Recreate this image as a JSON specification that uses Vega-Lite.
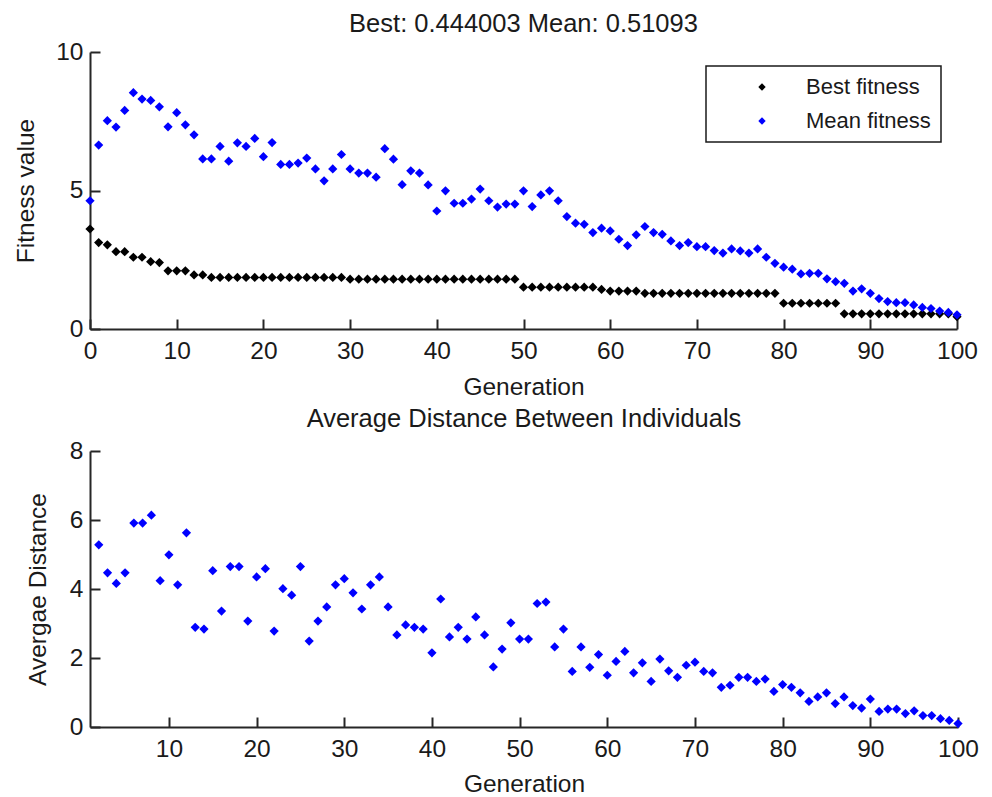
{
  "$schema": "https://vega.github.io/schema/vega-lite/v6.json",
  "background": "white",
  "padding": {"left": 13, "top": 11, "right": 10, "bottom": 2},
  "bounds": "flush",
  "spacing": 122,
  "config": {
    "font": "Liberation Sans",
    "view": {"stroke": null},
    "axis": {
      "domainColor": "#262626", "domainWidth": 2,
      "tickColor": "#262626", "tickWidth": 2, "tickSize": -10,
      "labelPadding": 20, "labelFontSize": 24.5, "labelColor": "#1a1a1a",
      "titleFontSize": 24.5, "titleFontWeight": "normal", "titleColor": "#1a1a1a",
      "grid": false, "labelFlush": false, "labelOverlap": false, "labelBound": false
    },
    "axisY": {"labelPadding": 17},
    "title": {"fontSize": 25.5, "fontWeight": "normal", "color": "#1a1a1a", "anchor": "middle", "baseline": "alphabetic", "frame": "group"},
    "legend": {"strokeWidth": 1.5}
  },
  "datasets": {
    "fitness": [
      {"g":0,"best":3.61,"mean":4.63},{"g":1,"best":3.12,"mean":6.64},{"g":2,"best":3.04,"mean":7.52},{"g":3,"best":2.79,"mean":7.29},{"g":4,"best":2.79,"mean":7.89},
      {"g":5,"best":2.59,"mean":8.53},{"g":6,"best":2.59,"mean":8.30},{"g":7,"best":2.43,"mean":8.25},{"g":8,"best":2.40,"mean":8.02},{"g":9,"best":2.10,"mean":7.30},
      {"g":10,"best":2.10,"mean":7.81},{"g":11,"best":2.10,"mean":7.37},{"g":12,"best":1.95,"mean":7.01},{"g":13,"best":1.95,"mean":6.14},{"g":14,"best":1.86,"mean":6.14},
      {"g":15,"best":1.86,"mean":6.59},{"g":16,"best":1.86,"mean":6.06},{"g":17,"best":1.86,"mean":6.72},{"g":18,"best":1.86,"mean":6.59},{"g":19,"best":1.86,"mean":6.88},
      {"g":20,"best":1.86,"mean":6.22},{"g":21,"best":1.86,"mean":6.73},{"g":22,"best":1.86,"mean":5.94},{"g":23,"best":1.86,"mean":5.94},{"g":24,"best":1.86,"mean":5.99},
      {"g":25,"best":1.86,"mean":6.17},{"g":26,"best":1.86,"mean":5.78},{"g":27,"best":1.86,"mean":5.35},{"g":28,"best":1.86,"mean":5.78},{"g":29,"best":1.86,"mean":6.30},
      {"g":30,"best":1.80,"mean":5.78},{"g":31,"best":1.80,"mean":5.63},{"g":32,"best":1.80,"mean":5.63},{"g":33,"best":1.80,"mean":5.48},{"g":34,"best":1.80,"mean":6.51},
      {"g":35,"best":1.80,"mean":6.13},{"g":36,"best":1.80,"mean":5.21},{"g":37,"best":1.80,"mean":5.71},{"g":38,"best":1.80,"mean":5.63},{"g":39,"best":1.80,"mean":5.20},
      {"g":40,"best":1.80,"mean":4.26},{"g":41,"best":1.80,"mean":4.99},{"g":42,"best":1.80,"mean":4.54},{"g":43,"best":1.80,"mean":4.54},{"g":44,"best":1.80,"mean":4.69},
      {"g":45,"best":1.80,"mean":5.05},{"g":46,"best":1.80,"mean":4.63},{"g":47,"best":1.80,"mean":4.40},{"g":48,"best":1.80,"mean":4.51},{"g":49,"best":1.80,"mean":4.51},
      {"g":50,"best":1.51,"mean":4.99},{"g":51,"best":1.51,"mean":4.42},{"g":52,"best":1.51,"mean":4.84},{"g":53,"best":1.51,"mean":4.99},{"g":54,"best":1.51,"mean":4.63},
      {"g":55,"best":1.51,"mean":4.06},{"g":56,"best":1.51,"mean":3.82},{"g":57,"best":1.51,"mean":3.78},{"g":58,"best":1.51,"mean":3.48},{"g":59,"best":1.43,"mean":3.64},
      {"g":60,"best":1.37,"mean":3.54},{"g":61,"best":1.37,"mean":3.24},{"g":62,"best":1.37,"mean":3.01},{"g":63,"best":1.37,"mean":3.40},{"g":64,"best":1.29,"mean":3.70},
      {"g":65,"best":1.29,"mean":3.48},{"g":66,"best":1.29,"mean":3.42},{"g":67,"best":1.29,"mean":3.18},{"g":68,"best":1.29,"mean":3.01},{"g":69,"best":1.29,"mean":3.12},
      {"g":70,"best":1.29,"mean":2.97},{"g":71,"best":1.29,"mean":2.97},{"g":72,"best":1.29,"mean":2.83},{"g":73,"best":1.29,"mean":2.74},{"g":74,"best":1.29,"mean":2.89},
      {"g":75,"best":1.29,"mean":2.82},{"g":76,"best":1.29,"mean":2.74},{"g":77,"best":1.29,"mean":2.89},{"g":78,"best":1.29,"mean":2.59},{"g":79,"best":1.29,"mean":2.37},
      {"g":80,"best":0.93,"mean":2.23},{"g":81,"best":0.93,"mean":2.16},{"g":82,"best":0.93,"mean":1.99},{"g":83,"best":0.93,"mean":2.01},{"g":84,"best":0.93,"mean":2.01},
      {"g":85,"best":0.93,"mean":1.81},{"g":86,"best":0.93,"mean":1.71},{"g":87,"best":0.55,"mean":1.65},{"g":88,"best":0.55,"mean":1.37},{"g":89,"best":0.55,"mean":1.45},
      {"g":90,"best":0.55,"mean":1.29},{"g":91,"best":0.55,"mean":1.10},{"g":92,"best":0.55,"mean":0.99},{"g":93,"best":0.55,"mean":0.95},{"g":94,"best":0.55,"mean":0.95},
      {"g":95,"best":0.55,"mean":0.87},{"g":96,"best":0.55,"mean":0.78},{"g":97,"best":0.55,"mean":0.74},{"g":98,"best":0.55,"mean":0.65},{"g":99,"best":0.55,"mean":0.60},
      {"g":100,"best":0.444003,"mean":0.51093}
    ],
    "distance": [
      {"g":2,"d":5.28},{"g":3,"d":4.47},{"g":4,"d":4.16},{"g":5,"d":4.47},{"g":6,"d":5.91},{"g":7,"d":5.91},{"g":8,"d":6.14},{"g":9,"d":4.24},{"g":10,"d":4.99},
      {"g":11,"d":4.12},{"g":12,"d":5.63},{"g":13,"d":2.89},{"g":14,"d":2.84},{"g":15,"d":4.53},{"g":16,"d":3.36},{"g":17,"d":4.65},{"g":18,"d":4.65},{"g":19,"d":3.07},{"g":20,"d":4.35},
      {"g":21,"d":4.59},{"g":22,"d":2.78},{"g":23,"d":4.01},{"g":24,"d":3.82},{"g":25,"d":4.65},{"g":26,"d":2.49},{"g":27,"d":3.07},{"g":28,"d":3.48},{"g":29,"d":4.12},{"g":30,"d":4.30},
      {"g":31,"d":3.89},{"g":32,"d":3.42},{"g":33,"d":4.12},{"g":34,"d":4.35},{"g":35,"d":3.48},{"g":36,"d":2.67},{"g":37,"d":2.96},{"g":38,"d":2.89},{"g":39,"d":2.84},{"g":40,"d":2.15},
      {"g":41,"d":3.71},{"g":42,"d":2.61},{"g":43,"d":2.89},{"g":44,"d":2.55},{"g":45,"d":3.19},{"g":46,"d":2.67},{"g":47,"d":1.74},{"g":48,"d":2.26},{"g":49,"d":3.02},{"g":50,"d":2.55},
      {"g":51,"d":2.55},{"g":52,"d":3.58},{"g":53,"d":3.62},{"g":54,"d":2.32},{"g":55,"d":2.84},{"g":56,"d":1.61},{"g":57,"d":2.32},{"g":58,"d":1.73},{"g":59,"d":2.10},{"g":60,"d":1.50},
      {"g":61,"d":1.90},{"g":62,"d":2.19},{"g":63,"d":1.57},{"g":64,"d":1.86},{"g":65,"d":1.32},{"g":66,"d":1.97},{"g":67,"d":1.63},{"g":68,"d":1.44},{"g":69,"d":1.79},{"g":70,"d":1.88},
      {"g":71,"d":1.61},{"g":72,"d":1.57},{"g":73,"d":1.15},{"g":74,"d":1.21},{"g":75,"d":1.44},{"g":76,"d":1.44},{"g":77,"d":1.32},{"g":78,"d":1.39},{"g":79,"d":1.03},{"g":80,"d":1.23},
      {"g":81,"d":1.15},{"g":82,"d":0.99},{"g":83,"d":0.74},{"g":84,"d":0.87},{"g":85,"d":0.99},{"g":86,"d":0.68},{"g":87,"d":0.87},{"g":88,"d":0.62},{"g":89,"d":0.55},{"g":90,"d":0.81},
      {"g":91,"d":0.45},{"g":92,"d":0.52},{"g":93,"d":0.52},{"g":94,"d":0.39},{"g":95,"d":0.47},{"g":96,"d":0.33},{"g":97,"d":0.33},{"g":98,"d":0.24},{"g":99,"d":0.19},{"g":100,"d":0.10}
    ]
  },
  "vconcat": [
    {
      "title": {"text": "Best: 0.444003 Mean: 0.51093", "offset": 2},
      "width": 867,
      "height": 277,
      "data": {"name": "fitness"},
      "transform": [{"fold": ["best", "mean"], "as": ["key", "value"]}],
      "mark": {"type": "point", "shape": "diamond", "filled": true, "size": 85, "opacity": 1, "strokeWidth": 0},
      "encoding": {
        "x": {"field": "g", "type": "quantitative", "scale": {"domain": [0, 100], "nice": false, "zero": false},
              "axis": {"title": "Generation", "values": [0,10,20,30,40,50,60,70,80,90,100], "titleY": 65, "titleBaseline": "alphabetic"}},
        "y": {"field": "value", "type": "quantitative", "scale": {"domain": [0, 10], "nice": false},
              "axis": {"title": "Fitness value", "values": [0,5,10], "titleAngle": 270, "titleX": -57, "titleY": 138.5, "titleBaseline": "alphabetic", "titleAlign": "center"}},
        "color": {"field": "key", "type": "nominal",
                  "scale": {"domain": ["best", "mean"], "range": ["#000000", "#0000ff"]},
                  "legend": {"title": null, "orient": "none", "legendX": 616, "legendY": 14,
                             "labelExpr": "datum.value == 'best' ? 'Best fitness' : 'Mean fitness'",
                             "strokeColor": "#1a1a1a", "fillColor": "white", "padding": 10,
                             "labelFontSize": 22, "labelColor": "#1a1a1a", "symbolType": "diamond", "symbolSize": 55,
                             "symbolOffset": 35, "labelOffset": 33, "rowPadding": 12, "symbolStrokeWidth": 0}}
      }
    },
    {
      "title": {"text": "Average Distance Between Individuals", "offset": 6},
      "width": 868,
      "height": 276,
      "data": {"name": "distance"},
      "mark": {"type": "point", "shape": "diamond", "filled": true, "size": 85, "opacity": 1, "strokeWidth": 0, "color": "#0000ff"},
      "encoding": {
        "x": {"field": "g", "type": "quantitative", "scale": {"domain": [1, 100], "nice": false, "zero": false},
              "axis": {"title": "Generation", "values": [10,20,30,40,50,60,70,80,90,100], "titleY": 64, "titleBaseline": "alphabetic"}},
        "y": {"field": "d", "type": "quantitative", "scale": {"domain": [0, 8], "nice": false},
              "axis": {"title": "Avergae Distance", "values": [0,2,4,6,8], "titleAngle": 270, "titleX": -45, "titleY": 138, "titleBaseline": "alphabetic", "titleAlign": "center"}}
      }
    }
  ]
}
